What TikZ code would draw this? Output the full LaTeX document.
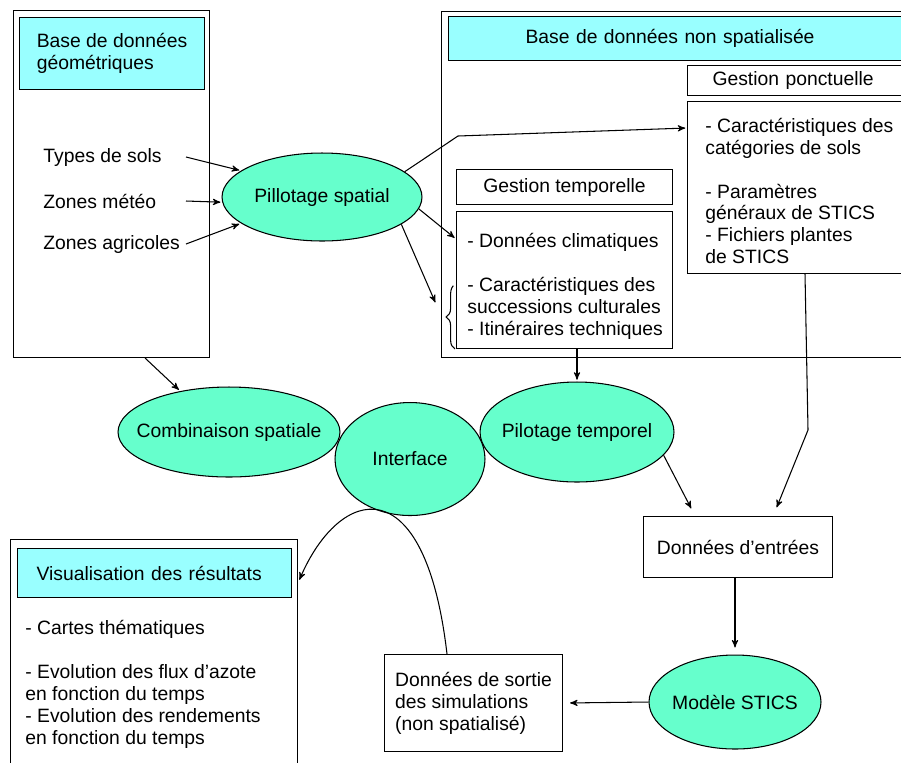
\documentclass[tikz,border=0pt]{standalone}
\usepackage{fontspec}
\setmainfont{Liberation Sans}
\usetikzlibrary{shapes,arrows}
\usetikzlibrary{positioning,calc,decorations.pathreplacing}
\definecolor{cyanclair}{HTML}{99FFFF}
\definecolor{menthe}{HTML}{66FFCC}
\tikzset{
    cadre/.style={
           rectangle,
           draw=black, line width=0.6pt,
           anchor=north west,
           inner sep=0pt
           },
    entete/.style={
           cadre,
           fill=cyanclair,
           align=left
           },
    boite/.style={
           cadre,
           fill=white,
           align=left
           },
    bulle/.style={
           ellipse,
           draw=black, line width=0.6pt,
           fill=menthe,
           inner sep=0pt,
           label={center:#1}
           },
    texte/.style={
           anchor=west,
           align=left
           }
}
\begin{document}
\begin{tikzpicture}[x=0.02cm, y=-0.02cm, shorten >=1pt, >=stealth', line width=0.6pt,
                    font=\fontsize{11}{12.5}\selectfont]
   \useasboundingbox (0,0) rectangle (901,762);
   \clip (0,0) rectangle (901,762);
   % base geometrique
   \node[cadre, minimum width=3.92cm, minimum height=6.94cm] (geo) at (13,10) {};
   \node[entete, minimum width=3.7cm, minimum height=1.44cm] (geoT) at (19,17) {Base de données\\géométriques};
   \node[texte] (sols) at (37,157) {Types de sols};
   \node[texte] (meteo) at (37,201) {Zones météo};
   \node[texte] (agri) at (37,244) {Zones agricoles};
   \coordinate (bord) at (186,0);
   \node[bulle={Pillotage spatial}, minimum width=4cm, minimum height=1.76cm] (ps) at (322,197) {};
   % base non spatialisee
   \node[cadre, minimum width=10cm, minimum height=6.92cm] (nsp) at (441,11) {};
   \node[entete, minimum height=0.88cm, text width=6.92cm, inner xsep=1.54cm] (nspT) at (448,16) {Base de données non spatialisée};
   \node[boite, minimum height=0.6cm, text width=4.2cm, inner xsep=0.5cm] (gp) at (687,65) {Gestion ponctuelle};
   \node[boite, minimum width=5.2cm, minimum height=3.44cm] (gpc) at (687,101) {};
   \node[texte] (gpcT) at (699,191)
        {- Caractéristiques des\\catégories de sols\\[12.5pt]- Paramètres\\généraux de STICS\\- Fichiers plantes\\de STICS};
   \node[boite, minimum width=4.32cm, minimum height=0.7cm, align=center] (gt) at (456,169) {Gestion temporelle};
   \node[boite, minimum width=4.32cm, minimum height=2.74cm] (gtc) at (456,211) {};
   \node[texte] (gtcT) at (461,286)
        {- Données climatiques\\[12.5pt]- Caractéristiques des\\successions culturales\\- Itinéraires techniques};
   \draw[decorate, decoration={brace, amplitude=5pt}] (455,349) -- (455,285);
   \coordinate (accol) at (436,304);
   \coordinate (coude1) at (458,136);
   \coordinate (coude2) at (808,430);
   % traitements
   \node[bulle={Combinaison spatiale}, minimum width=4.44cm, minimum height=1.8cm] (cs) at (229,432) {};
   \node[bulle={Pilotage temporel}, minimum width=3.88cm, minimum height=2cm] (pt) at (577,432) {};
   \node[bulle={Interface}, minimum width=3cm, minimum height=2.26cm] (itf) at (410,459) {};
   \node[boite, minimum width=3.78cm, minimum height=1.22cm, align=center] (de) at (643,516) {Données d’entrées};
   \node[bulle={Modèle STICS}, minimum width=3.44cm, minimum height=1.88cm] (ms) at (735,702) {};
   \node[boite, minimum width=3.56cm, minimum height=1.94cm] (ds) at (384,654) {Données de sortie\\des simulations\\(non spatialisé)};
   % resultats
   \node[cadre, minimum width=5.74cm, minimum height=5cm] (vis) at (10,539) {};
   \node[entete, minimum height=0.98cm, text width=4.72cm, inner xsep=0.38cm] (visT) at (17,548) {Visualisation des résultats};
   \node[texte] (visL) at (19,684) {- Cartes thématiques\\[12.5pt]- Evolution des flux d’azote\\en fonction du temps\\- Evolution des rendements\\en fonction du temps};
   % fleches
   \draw[->] (sols.east -| bord) -- (ps.162);
   \draw[->] (meteo.east -| bord) -- (ps.183);
   \draw[->] (agri.east -| bord) -- (ps.198);
   \draw[->] (ps.17) -- (coude1) -- ($(gpc.north west)+(0,27)$);
   \draw[->] (ps.-7) -- ($(gtc.north west)+(0,28)$);
   \draw[->] (ps.-19) -- (accol);
   \draw[->] ($(geo.south west)+(132,0)$) -- (cs.140);
   \draw[->] (pt.north |- gtc.south) -- (pt.north);
   \draw[->] (pt.-15) -- ($(de.north west)+(49,-6)$);
   \draw[->] ($(gpc.south west)+(118,0)$) -- (coude2) -- ($(de.north west)+(133,-7)$);
   \draw[->, shorten >=4pt] (ms.north |- de.south) -- (ms.north);
   \draw[->, shorten >=4pt] (ms.west) -- (ds.east);
   \draw[->, shorten >=2pt] ($(ds.north west)+(63,0)$) .. controls (425,465) and (340,485) .. ($(vis.north east)+(0,44)$);
\end{tikzpicture}
\end{document}
